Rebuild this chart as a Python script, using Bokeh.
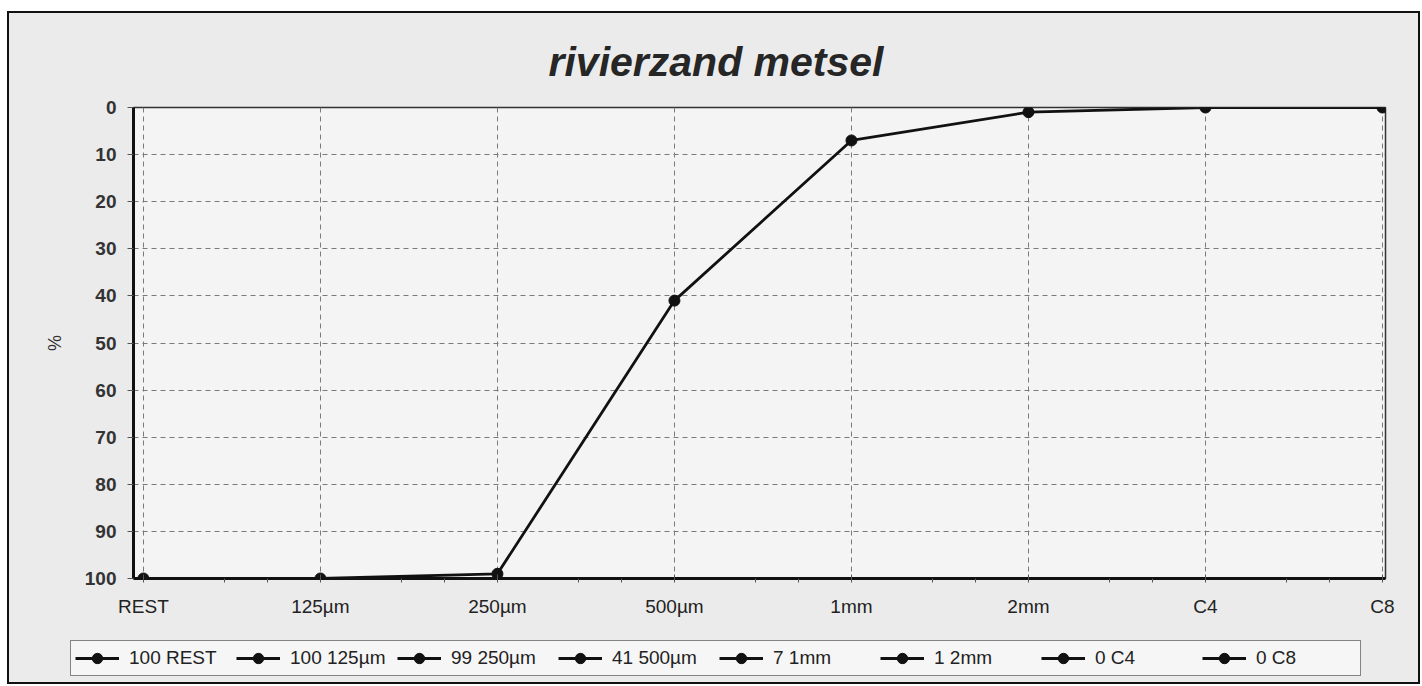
from bokeh.plotting import figure
from bokeh.models import Range1d, FixedTicker, Legend, LegendItem
from bokeh.layouts import column, row
from bokeh.embed import file_html
from bokeh.resources import INLINE

# ---- data ----
categories = ["REST", "125µm", "250µm", "500µm", "1mm", "2mm", "C4", "C8"]
values = [100, 100, 99, 41, 7, 1, 0, 0]
legend_labels = ["100 REST", "100 125µm", "99 250µm", "41 500µm", "7 1mm", "1 2mm", "0 C4", "0 C8"]
y_ticks = [0, 10, 20, 30, 40, 50, 60, 70, 80, 90, 100]
minor_fracs = [0.46, 0.70]

FONT = "Liberation Sans"
INK = "#111111"
OUTER = "#ebebeb"

xs = list(range(len(categories)))
minor = [i + f for i in xs[:-1] for f in minor_fracs]

p = figure(width=1409, height=617, output_backend="svg", toolbar_location=None,
           x_range=Range1d(-0.056, 7.017), y_range=Range1d(100, 0),
           min_border_left=124, min_border_right=33, min_border_top=94, min_border_bottom=52,
           title="rivierzand metsel")

p.border_fill_color = OUTER
p.background_fill_color = "#f4f4f4"
p.outline_line_color = "#333333"
p.outline_line_width = 1.5

# title
p.title.text_font = FONT
p.title.text_font_size = "41px"
p.title.text_font_style = "bold italic"
p.title.text_color = "#262626"
p.title.align = "left"
p.title.offset = 415
p.title.standoff = 45

# grids
p.xgrid.ticker = FixedTicker(ticks=xs)
p.ygrid.ticker = FixedTicker(ticks=y_ticks)
for g in (p.xgrid, p.ygrid):
    g.grid_line_color = "#7a7a7a"
    g.grid_line_dash = "5 4"
    g.grid_line_width = 1

# x axis
xa = p.xaxis[0]
xa.ticker = FixedTicker(ticks=xs, minor_ticks=minor)
xa.major_label_overrides = {i: c for i, c in zip(xs, categories)}
xa.axis_line_width = 3
xa.axis_line_color = INK
xa.major_tick_in = 4
xa.major_tick_out = 4
xa.major_tick_line_color = "#555555"
xa.minor_tick_in = 0
xa.minor_tick_out = 4
xa.minor_tick_line_color = "#555555"
xa.major_label_standoff = 13
xa.major_label_text_font = FONT
xa.major_label_text_font_size = "19px"
xa.major_label_text_color = "#222222"

# y axis
ya = p.yaxis[0]
ya.ticker = FixedTicker(ticks=y_ticks)
ya.axis_line_width = 3
ya.axis_line_color = INK
ya.major_tick_in = 0
ya.major_tick_out = 6
ya.major_tick_line_color = "#555555"
ya.minor_tick_line_color = None
ya.major_label_standoff = 11
ya.major_label_text_font = FONT
ya.major_label_text_font_size = "19px"
ya.major_label_text_font_style = "bold"
ya.major_label_text_color = "#333333"
ya.axis_label = "%"
ya.axis_label_text_font = FONT
ya.axis_label_text_font_size = "18px"
ya.axis_label_text_font_style = "normal"
ya.axis_label_text_color = "#333333"
ya.axis_label_standoff = 17

# main series
p.line(xs, values, line_color=INK, line_width=2.8)
p.scatter(xs, values, size=11, marker="circle", fill_color=INK, line_color=INK)

# ---- legend strip (separate figure so the box can sit left of the frame) ----
lf = figure(width=1409, height=52, output_backend="svg", toolbar_location=None,
            x_range=Range1d(-1000, -999), y_range=Range1d(-1000, -999),
            x_axis_type=None, y_axis_type=None,
            min_border_left=0, min_border_right=0, min_border_top=0, min_border_bottom=0)
lf.grid.visible = False
lf.outline_line_color = None
lf.border_fill_color = OUTER
lf.background_fill_color = OUTER

items = []
for i, lab in enumerate(legend_labels):
    lr = lf.line([xs[i]], [values[i]], line_color=INK, line_width=3)
    sr = lf.scatter([xs[i]], [values[i]], size=11, marker="circle",
                    fill_color=INK, line_color=INK)
    items.append(LegendItem(label=lab, renderers=[lr, sr]))

legend = Legend(items=items, orientation="horizontal", location=(61, 6),
                glyph_width=44, glyph_height=26, label_standoff=10, label_width=100,
                spacing=7, padding=4, margin=0,
                border_line_color=INK, border_line_width=1.5,
                background_fill_color="#f6f6f6", background_fill_alpha=1.0,
                label_text_font=FONT, label_text_font_size="19px",
                label_text_color="#222222", click_policy="none")
lf.add_layout(legend, "center")

layout = column(p, row(lf, spacing=0), spacing=0)
layout.styles = {"border": "2px solid #111111", "margin": "11px 0px 0px 7px",
                 "background-color": OUTER}

open("out.html", "w").write(file_html(layout, INLINE))
